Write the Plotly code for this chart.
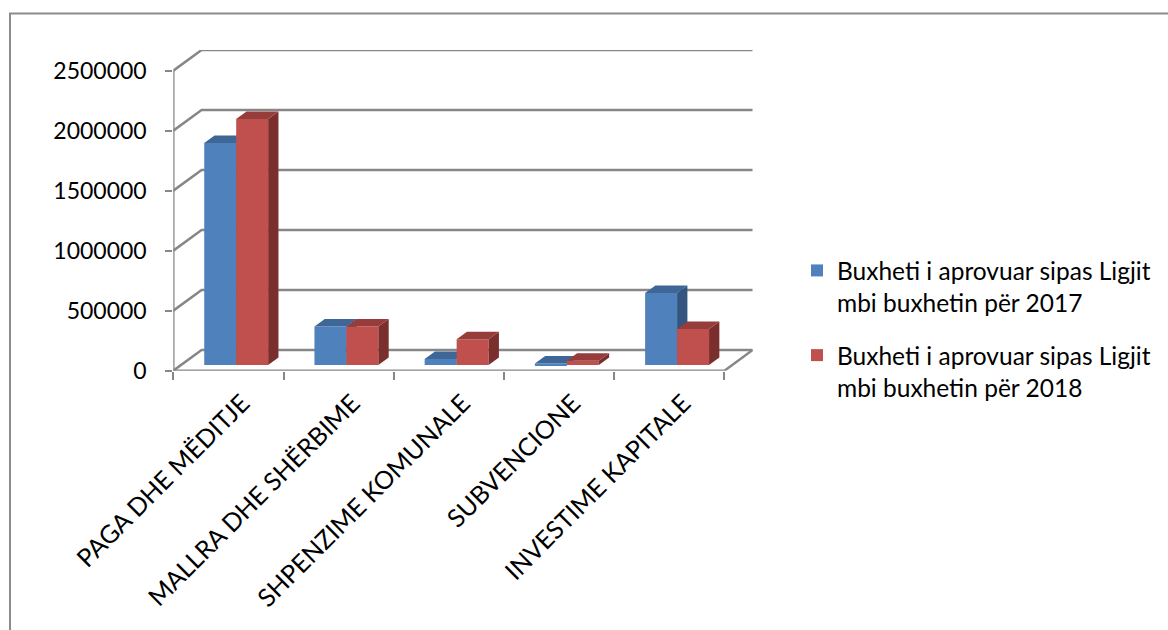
import plotly.graph_objects as go

# ---------------- data ----------------
categories = ["PAGA DHE MËDITJE", "MALLRA DHE SHËRBIME", "SHPENZIME KOMUNALE",
              "SUBVENCIONE", "INVESTIME KAPITALE"]
series_names = ["Buxheti i aprovuar sipas Ligjit<br>mbi buxhetin për 2017",
                "Buxheti i aprovuar sipas Ligjit<br>mbi buxhetin për 2018"]
values_2017 = [1850000, 320000, 50000, 12000, 600000]
values_2018 = [2050000, 320000, 215000, 35000, 300000]
y_ticks = [0, 500000, 1000000, 1500000, 2000000, 2500000]

# ---------------- styling / pseudo-3D geometry ----------------
W, H = 1168, 630
FONT = "Lato"
GRID = "#878787"
front_cols = ["#4F81BD", "#C0504D"]
top_cols = ["#3E6696", "#963C3A"]
side_cols = ["#33557F", "#7B2F2D"]

DX = 0.2566          # depth offset in x units
DY = 172500          # depth offset in value units
F0, F1 = 0.275, 0.64  # front/back depth fraction of the bars
BW = 0.29            # bar width (x units)
n = len(categories)
xr = [-0.5, n - 0.5 + DX]
yr = [0, y_ticks[-1] + DY]

px_left, px_right = 173.3, 752.7
px_top, px_bottom = 50, 370.7
xdom = [px_left / W, px_right / W]
ydom = [(H - px_bottom) / H, (H - px_top) / H]

fig = go.Figure()

# back wall gridlines, diagonals, front axis and floor (base subplot)
gx, gy = [], []
for v in y_ticks:
    gx += [-0.5, -0.5 + DX, n - 0.5 + DX, None]
    gy += [v, v + DY, v + DY, None]
gx += [-0.5, -0.5, None, -0.5, n - 0.5, n - 0.5 + DX, None]
gy += [y_ticks[-1], 0, None, 0, 0, DY, None]
fig.add_trace(go.Scatter(x=gx, y=gy, mode="lines", line=dict(color=GRID, width=2.5),
                         hoverinfo="skip", showlegend=False, xaxis="x", yaxis="y"))

# bars (each series on its own overlaid subplot so that red is painted over blue)
for s, vals in enumerate([values_2017, values_2018]):
    xa, ya = ("x2", "y2") if s == 0 else ("x3", "y3")
    base = F0 * DY
    ddx, ddy = (F1 - F0) * DX, (F1 - F0) * DY
    xl = [i - BW + s * BW + F0 * DX for i in range(n)]
    fig.add_trace(go.Bar(x=[v + BW / 2 for v in xl], y=vals, base=[base] * n, width=BW,
                         marker=dict(color=front_cols[s], line=dict(width=0)),
                         name=series_names[s], legendgroup=str(s),
                         xaxis=xa, yaxis=ya))
    tx, ty, sx, sy = [], [], [], []
    for i in range(n):
        T = base + vals[i]
        a = xl[i]
        tx += [a, a + BW, a + BW + ddx, a + ddx, a, None]
        ty += [T, T, T + ddy, T + ddy, T, None]
        sx += [a + BW, a + BW + ddx, a + BW + ddx, a + BW, a + BW, None]
        sy += [base, base + ddy, T + ddy, T, base, None]
    fig.add_trace(go.Scatter(x=sx, y=sy, fill="toself", mode="lines", line=dict(width=0),
                             fillcolor=side_cols[s], hoverinfo="skip", showlegend=False,
                             xaxis=xa, yaxis=ya))
    fig.add_trace(go.Scatter(x=tx, y=ty, fill="toself", mode="lines", line=dict(width=0),
                             fillcolor=top_cols[s], hoverinfo="skip", showlegend=False,
                             xaxis=xa, yaxis=ya))

hidden = dict(visible=False, showgrid=False, zeroline=False, automargin=False)
fig.update_layout(
    width=W, height=H,
    margin=dict(l=0, r=0, t=0, b=0, autoexpand=False),
    paper_bgcolor="white", plot_bgcolor="rgba(0,0,0,0)",
    font=dict(family=FONT, size=23, color="black"),
    barmode="overlay",
    xaxis=dict(domain=xdom, range=xr, tickmode="array", tickvals=list(range(n)),
               ticktext=categories, tickangle=-45, ticks="", showgrid=False,
               zeroline=False, showline=False, ticklabelstandoff=12, ticklabelshift=14,
               automargin=False, tickfont=dict(family=FONT, size=25),
               minor=dict(tickmode="array", tickvals=[i - 0.5 for i in range(n + 1)],
                          ticks="outside", ticklen=8, tickwidth=2, tickcolor=GRID,
                          showgrid=False)),
    yaxis=dict(domain=ydom, range=yr, tickmode="array", tickvals=y_ticks,
               ticktext=[str(v) for v in y_ticks], ticks="outside", ticklen=7,
               tickwidth=2, tickcolor=GRID, showgrid=False, zeroline=False,
               showline=False, ticklabelstandoff=14, automargin=False),
    xaxis2=dict(hidden, domain=xdom, range=xr, overlaying="x", anchor="y2"),
    yaxis2=dict(hidden, domain=ydom, range=yr, overlaying="y", anchor="x2"),
    xaxis3=dict(hidden, domain=xdom, range=xr, overlaying="x", anchor="y3"),
    yaxis3=dict(hidden, domain=ydom, range=yr, overlaying="y", anchor="x3"),
    legend=dict(x=797 / W, y=1 - 248 / H, xanchor="left", yanchor="top",
                valign="top", traceorder="grouped", tracegroupgap=18,
                font=dict(family=FONT, size=24.5), bgcolor="rgba(0,0,0,0)"),
    showlegend=True,
    shapes=[dict(type="rect", xref="paper", yref="paper", x0=10 / W, y0=-0.05,
                 x1=1.05, y1=1 - 13.5 / H, line=dict(color="#8C8C8C", width=2),
                 layer="below")],
)

fig.write_html("out.html")
